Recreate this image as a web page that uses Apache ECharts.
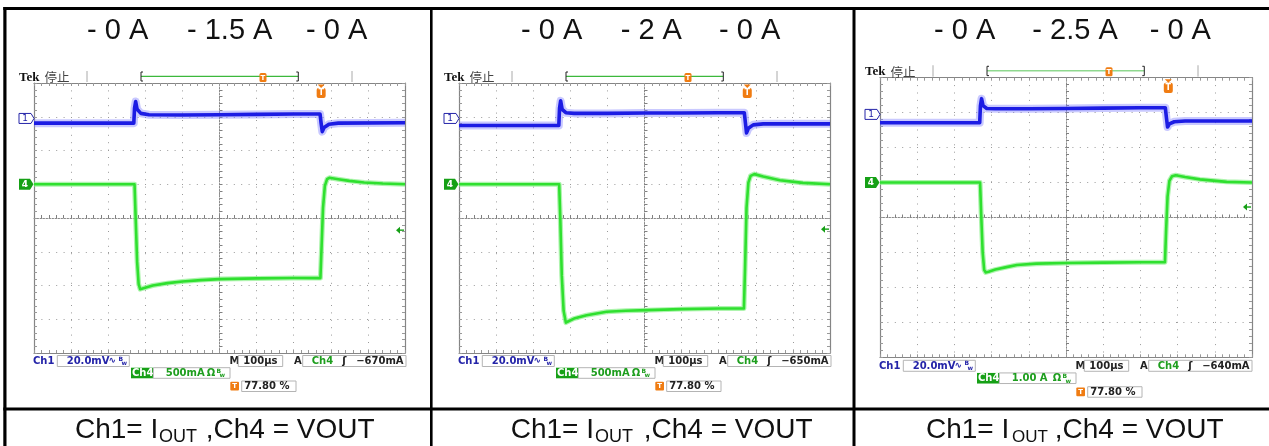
<!DOCTYPE html>
<html><head><meta charset="utf-8">
<script src="https://cdn.jsdelivr.net/npm/echarts@6/dist/echarts.min.js"></script>
<style>html,body{margin:0;padding:0;background:#fff}#c{width:1269px;height:446px}</style>
</head><body><div id="c"></div>
<script>
// ---- data: graticule divisions, centre of screen = (0,0); x: -5..5, y: -4..4 ----
const p1Ch1X = [-5, -2.31, -2.29, -2.26, -2.22, -2.12, -1.9, -1.0, 0, 1.0, 2.0, 2.71, 2.74, 2.77, 2.82, 2.95, 3.2, 5];
const p1Ch1Y = [2.81, 2.81, 3.25, 3.45, 3.22, 3.10, 3.06, 3.05, 3.06, 3.07, 3.08, 3.08, 2.80, 2.56, 2.68, 2.78, 2.81, 2.82];
const p1Ch4X = [-5, -2.29, -2.26, -2.22, -2.18, -2.14, -2.05, -1.8, -1.4, -1.0, -0.5, 0, 1.0, 2.0, 2.72, 2.75, 2.79, 2.84, 2.90, 2.96, 3.2, 3.5, 3.9, 4.4, 5];
const p1Ch4Y = [1.0, 1.0, 0.0, -1.3, -1.95, -2.11, -2.08, -2.00, -1.93, -1.88, -1.84, -1.81, -1.79, -1.78, -1.78, -0.9, 0.3, 0.95, 1.15, 1.19, 1.15, 1.10, 1.05, 1.02, 1.0];

const p2Ch1X = [-5, -2.31, -2.29, -2.26, -2.22, -2.12, -1.9, -1.0, 0, 1.0, 2.0, 2.69, 2.72, 2.75, 2.80, 2.93, 3.2, 5];
const p2Ch1Y = [2.74, 2.74, 3.25, 3.47, 3.22, 3.12, 3.10, 3.10, 3.11, 3.11, 3.12, 3.12, 2.82, 2.52, 2.66, 2.76, 2.79, 2.79];
const p2Ch4X = [-5, -2.30, -2.27, -2.23, -2.18, -2.12, -2.05, -1.9, -1.56, -1.02, -0.5, 0.06, 1.0, 2.0, 2.68, 2.71, 2.75, 2.80, 2.86, 2.96, 3.2, 3.65, 4.27, 5];
const p2Ch4Y = [1.0, 1.0, 0.0, -1.7, -2.75, -3.10, -3.06, -2.98, -2.88, -2.78, -2.75, -2.73, -2.70, -2.68, -2.68, -1.5, 0.3, 1.05, 1.25, 1.30, 1.23, 1.12, 1.04, 1.0];

const p3Ch1X = [-5, -2.32, -2.30, -2.27, -2.23, -2.13, -1.9, -1.0, 0, 1.0, 2.0, 2.67, 2.70, 2.73, 2.78, 2.91, 3.2, 5];
const p3Ch1Y = [2.71, 2.71, 3.20, 3.40, 3.20, 3.12, 3.11, 3.11, 3.12, 3.13, 3.14, 3.14, 2.85, 2.59, 2.68, 2.74, 2.76, 2.76];
const p3Ch4X = [-5, -2.31, -2.28, -2.24, -2.20, -2.16, -2.08, -1.9, -1.6, -1.32, -0.8, 0.02, 1.0, 2.0, 2.66, 2.69, 2.73, 2.78, 2.85, 2.95, 3.2, 3.6, 4.32, 5];
const p3Ch4Y = [1.0, 1.0, 0.1, -1.0, -1.5, -1.57, -1.55, -1.49, -1.42, -1.36, -1.32, -1.30, -1.29, -1.28, -1.28, -0.4, 0.6, 1.05, 1.18, 1.21, 1.16, 1.09, 1.02, 1.0];

const titleTexts = [["- 0 A", "- 1.5 A", "- 0 A"], ["- 0 A", "- 2 A", "- 0 A"], ["- 0 A", "- 2.5 A", "- 0 A"]];
const ch1Scale = ["20.0mV", "20.0mV", "20.0mV"];
const ch4Scale = ["500mA", "500mA", "1.00 A"];
const timeBase = ["100µs", "100µs", "100µs"];
const trigLevelText = ["−670mA", "−650mA", "−640mA"];
const trigPercent = ["77.80 %", "77.80 %", "77.80 %"];
const ch1RefLevel = [2.95, 2.95, 2.95];
const ch4RefLevel = [1.0, 1.0, 1.0];
const trigLevelDiv = [-0.36, -0.33, 0.30];
const trigPosDiv = [2.74, 2.77, 2.75];

// ---- layout ----
const PANELS = [
  {dx: 0, top: 83, sy: 1, w: 371, h: 270, titleX: [87, 187, 306], cap: [75, 159, 198], sub: 18, bracket: '#3cb83c'},
  {dx: 425, top: 83, sy: 1, w: 371, h: 270, titleX: [521, 620.7, 719], cap: [510.7, 595, 636], sub: 18, bracket: '#3cb83c'},
  {dx: 846, top: 77.7, sy: 1.037, w: 372, h: 279.6, titleX: [934, 1032.3, 1149.7], cap: [926, 1012, 1047], sub: 17, bracket: '#8fd88f'}
];
const traces = [
  [p1Ch1X, p1Ch1Y, p1Ch4X, p1Ch4Y],
  [p2Ch1X, p2Ch1Y, p2Ch4X, p2Ch4Y],
  [p3Ch1X, p3Ch1Y, p3Ch4X, p3Ch4Y]
];
const zip = (a, b) => a.map((v, i) => [v, b[i]]);

const grids = [], xAxes = [], yAxes = [], series = [];
const GC = '#858585';
PANELS.forEach((p, i) => {
  grids.push({left: 34 + p.dx, top: p.top, width: p.w, height: p.h, show: true, backgroundColor: '#fff', borderWidth: 0, outerBoundsMode: 'none', containLabel: false});
  const xb = {gridIndex: i, type: 'value', min: -5, max: 5, interval: 1, axisLabel: {show: false}, silent: true};
  const yb = {gridIndex: i, type: 'value', min: -4, max: 4, interval: 1, axisLabel: {show: false}, silent: true};
  const centre = {
    axisTick: {show: true, inside: true, length: 3, lineStyle: {color: '#808080', width: 1}},
    minorTick: {show: true, splitNumber: 5, length: 3, lineStyle: {color: '#808080', width: 1}},
    splitLine: {show: true, lineStyle: {color: '#9a9a9a', width: 1, type: [1, 6.4]}}
  };
  const frame = {
    axisTick: {show: true, inside: true, length: 3, lineStyle: {color: '#999', width: 1}},
    minorTick: {show: true, splitNumber: 5, length: 3, lineStyle: {color: '#999', width: 1}},
    splitLine: {show: false}
  };
  xAxes.push(Object.assign({}, xb, centre, {position: 'bottom', axisLine: {show: true, onZero: true, onZeroAxisIndex: 3 * i, lineStyle: {color: '#8a8a8a', width: 1, type: [1.5, 1.5]}}}));
  xAxes.push(Object.assign({}, xb, frame, {position: 'bottom', axisLine: {show: true, onZero: false, lineStyle: {color: GC, width: 1.2}}}));
  xAxes.push(Object.assign({}, xb, frame, {position: 'top', axisLine: {show: true, onZero: false, lineStyle: {color: GC, width: 1.2}}}));
  yAxes.push(Object.assign({}, yb, centre, {position: 'left', axisLine: {show: true, onZero: true, onZeroAxisIndex: 3 * i, lineStyle: {color: '#8a8a8a', width: 1, type: [1.5, 1.5]}}}));
  yAxes.push(Object.assign({}, yb, frame, {position: 'left', axisLine: {show: true, onZero: false, lineStyle: {color: GC, width: 1.2}}}));
  yAxes.push(Object.assign({}, yb, frame, {position: 'right', axisLine: {show: true, onZero: false, lineStyle: {color: GC, width: 1.2}}}));
  const t = traces[i];
  const common = {type: 'line', xAxisIndex: 3 * i, yAxisIndex: 3 * i, symbol: 'none', showSymbol: false, silent: true, animation: false, smooth: false};
  series.push(Object.assign({}, common, {data: zip(t[0], t[1]), z: 3, lineStyle: {color: 'rgba(120,120,255,0.4)', width: 8, join: 'round'}}));
  series.push(Object.assign({}, common, {data: zip(t[0], t[1]), z: 4, lineStyle: {color: '#1c1ce4', width: 3.6, join: 'round'}}));
  series.push(Object.assign({}, common, {data: zip(t[2], t[3]), z: 3, lineStyle: {color: 'rgba(140,240,140,0.7)', width: 5, join: 'round'}}));
  series.push(Object.assign({}, common, {data: zip(t[2], t[3]), z: 4, lineStyle: {color: '#2fe02f', width: 2.6, join: 'round'}}));
});

const chart = echarts.init(document.getElementById('c'), null, {renderer: 'canvas'});
chart.setOption({animation: false, backgroundColor: '#fff', grid: grids, xAxis: xAxes, yAxis: yAxes, series: series});

// ---- decorations ----
function TX(x, y, text, font, fill, align) {
  return {type: 'text', x: x, y: y, z: 100, silent: true,
    style: {text: text, font: font, fill: fill, align: align || 'left', verticalAlign: 'middle', textAlign: align || 'left', textVerticalAlign: 'middle'}};
}
function RC(x, y, w, h, fill, stroke, lw, r) {
  return {type: 'rect', z: 100, silent: true, shape: {x: x, y: y, width: w, height: h, r: r || 0}, style: {fill: fill || 'none', stroke: stroke || 'none', lineWidth: lw || 1}};
}
function PG(points, fill, stroke, lw) {
  return {type: 'polygon', z: 100, silent: true, shape: {points: points}, style: {fill: fill || 'none', stroke: stroke || 'none', lineWidth: lw || 1}};
}
function PL(points, stroke, lw) {
  return {type: 'polyline', z: 100, silent: true, shape: {points: points}, style: {fill: 'none', stroke: stroke, lineWidth: lw || 1}};
}
const F = 'bold 10px "DejaVu Sans"';
const BLUE = '#2424a8', GREEN = '#1e9e1e', ORANGE = '#f07c12', BOX = '#b4b4b4';
const g = [];
// table lines
g.push(RC(3.3, 7, 1265.7, 3, '#000'));
g.push(RC(3.3, 7, 3.2, 439, '#000'));
g.push(RC(430, 7, 2.6, 439, '#000'));
g.push(RC(852.5, 7, 3, 439, '#000'));
g.push(RC(3.3, 407.5, 1265.7, 3, '#000'));

PANELS.forEach((p, i) => {
  const X = x => x + p.dx;
  const Y = y => p.top + (y - 83) * p.sy;
  // title
  titleTexts[i].forEach((s, k) => g.push(TX(p.titleX[k], 30.5, s, '29px "Liberation Sans"', '#111')));
  // caption
  g.push(TX(p.cap[0], 430, 'Ch1= I', '28px "Liberation Sans"', '#111'));
  g.push(TX(p.cap[1], 437.5, 'OUT', p.sub + 'px "Liberation Sans"', '#111'));
  g.push(TX(p.cap[2], 430, ' ,Ch4 = VOUT', '28px "Liberation Sans"', '#111'));
  // top status bar
  g.push(TX(X(19), Y(77.3), 'Tek', 'bold 13px "Liberation Serif"', '#111'));
  g.push(TX(X(44.5), Y(77.3), '停止', '12.5px "Noto Sans CJK SC"', '#444'));
  g.push(PL([[X(87), Y(71)], [X(87), Y(82)]], '#aaa', 1));
  g.push(PL([[X(352), Y(71)], [X(352), Y(82)]], '#aaa', 1));
  g.push(PL([[X(141), Y(76.3)], [X(298.3), Y(76.3)]], p.bracket, 1.3));
  g.push(PL([[X(143), Y(72)], [X(141), Y(72)], [X(141), Y(81)], [X(143), Y(81)]], '#222', 1));
  g.push(PL([[X(296.3), Y(72)], [X(298.3), Y(72)], [X(298.3), Y(81)], [X(296.3), Y(81)]], '#222', 1));
  g.push(RC(X(259.5), Y(73), 7, 9, ORANGE, null, 1, 1.5));
  g.push(TX(X(263), Y(77.8), 'T', 'bold 7px "DejaVu Sans"', '#fff', 'center'));
  // bottom readouts row 1
  g.push(TX(X(33), Y(361), 'Ch1', F, BLUE));
  g.push(RC(X(57.3), Y(355.5), 72, 11, '#fff', BOX, 1));
  g.push(TX(X(66.7), Y(361), ch1Scale[i], F, BLUE));
  g.push(TX(X(108.5), Y(361), '∿', 'bold 9px "DejaVu Sans"', BLUE));
  g.push(TX(X(118.5), Y(359), 'B', 'bold 6px "DejaVu Sans"', BLUE));
  g.push(TX(X(121.5), Y(363.5), 'w', 'bold 6px "DejaVu Sans"', BLUE));
  g.push(TX(X(229.5), Y(361), 'M', F, '#222'));
  g.push(RC(X(238.3), Y(355.5), 44.4, 11, '#fff', BOX, 1));
  g.push(TX(X(243.3), Y(361), timeBase[i], F, '#222'));
  g.push(TX(X(294), Y(361), 'A', F, '#222'));
  g.push(RC(X(302.7), Y(355.5), 103.3, 11, '#fff', BOX, 1));
  g.push(TX(X(311.7), Y(361), 'Ch4', F, GREEN));
  g.push(TX(X(342.3), Y(361), 'ʃ', 'bold 10px "DejaVu Sans"', '#222'));
  g.push(TX(X(356.2), Y(361), trigLevelText[i], F, '#222'));
  // row 2
  g.push(RC(X(131), Y(367.7), 22.3, 10.6, '#16a016'));
  g.push(TX(X(132), Y(373), 'Ch4', F, '#fff'));
  g.push(RC(X(153.3), Y(367.7), 76.7, 10.6, '#fff', BOX, 1));
  g.push(TX(X(165.7), Y(373), ch4Scale[i], F, GREEN));
  g.push(TX(X(206.7), Y(373), 'Ω', F, GREEN));
  g.push(TX(X(216.5), Y(371), 'B', 'bold 6px "DejaVu Sans"', GREEN));
  g.push(TX(X(219.5), Y(375.5), 'w', 'bold 6px "DejaVu Sans"', GREEN));
  // row 3
  g.push(RC(X(230.3), Y(381.7), 8.7, 8.7, ORANGE, null, 1, 1));
  g.push(TX(X(234.6), Y(386.2), 'T', 'bold 7px "DejaVu Sans"', '#fff', 'center'));
  g.push(RC(X(241.7), Y(381), 54.3, 10.5, '#fff', BOX, 1));
  g.push(TX(X(244.3), Y(386.3), trigPercent[i], F, '#222'));

  // data-anchored markers
  const sIdx = 4 * i;
  const c1 = chart.convertToPixel({seriesIndex: sIdx}, [-5, ch1RefLevel[i]]);
  const c4 = chart.convertToPixel({seriesIndex: sIdx}, [-5, ch4RefLevel[i]]);
  const tl = chart.convertToPixel({seriesIndex: sIdx}, [5, trigLevelDiv[i]]);
  const tp = chart.convertToPixel({seriesIndex: sIdx}, [trigPosDiv[i], 4]);
  const mx0 = X(19), mx1 = X(31), mx2 = X(34);
  g.push(PG([[mx0, c1[1] - 5], [mx1, c1[1] - 5], [mx2, c1[1]], [mx1, c1[1] + 5], [mx0, c1[1] + 5]], '#fff', BLUE, 1));
  g.push(TX(X(25), c1[1] + 0.5, '1', '9px "DejaVu Sans"', BLUE, 'center'));
  g.push(PG([[mx0, c4[1] - 5.5], [X(30), c4[1] - 5.5], [X(33.5), c4[1]], [X(30), c4[1] + 5.5], [mx0, c4[1] + 5.5]], '#16a016'));
  g.push(TX(X(24.8), c4[1] + 0.5, '4', 'bold 9px "DejaVu Sans"', '#fff', 'center'));
  // trigger level arrow (right edge)
  const ax = tl[0];
  g.push(PG([[ax - 9, tl[1]], [ax - 5, tl[1] - 3.5], [ax - 5, tl[1] + 3.5]], '#16a016'));
  g.push(PL([[ax - 6, tl[1]], [ax - 1, tl[1]]], '#16a016', 1.4));
  // trigger position marker (top)
  const tx = tp[0], ty = tp[1];
  g.push(PG([[tx - 3.5, ty + 1.5], [tx + 3.5, ty + 1.5], [tx, ty + 5]], ORANGE));
  g.push(RC(tx - 4.5, ty + 5, 9, 10 * p.sy, ORANGE, null, 1, 2));
  g.push(TX(tx, ty + 10.2, 'T', 'bold 8px "DejaVu Sans"', '#fff', 'center'));
});
chart.setOption({graphic: {elements: g}});
</script></body></html>
